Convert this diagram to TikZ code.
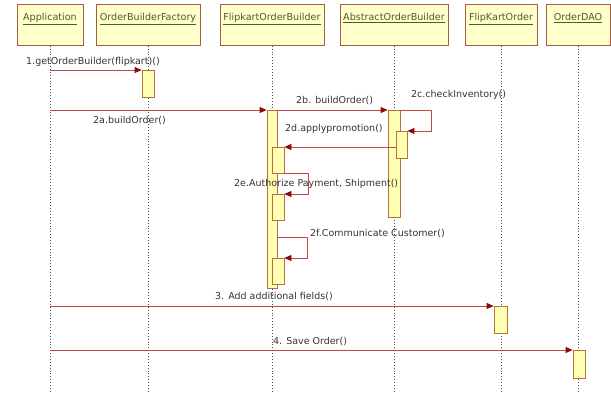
\documentclass[tikz,border=0pt]{standalone}
\usepackage{fontspec}
\setmainfont{DejaVu Sans}
\usetikzlibrary{arrows.meta, positioning}
\definecolor{headfill}{HTML}{FFFFCC}
\definecolor{boxline}{HTML}{A85A44}
\definecolor{headtext}{HTML}{4F5A2A}
\definecolor{actfill}{HTML}{FFFFB4}
\definecolor{actline}{HTML}{B8703C}
\definecolor{msgred}{HTML}{C04848}
\definecolor{tipred}{HTML}{8B0A0A}
\definecolor{lifegray}{HTML}{505050}
\definecolor{labelgray}{HTML}{333333}

\begin{document}
\begin{tikzpicture}[
    x=1pt, y=-1pt,
    head/.style={rectangle, draw=boxline, fill=headfill, line width=0.8pt, anchor=north, text height=7pt, text depth=16pt, inner ysep=9pt, inner xsep=1pt, font=\fontsize{9.6}{11}\selectfont, text=headtext},
    act/.style={rectangle, draw=actline, fill=actfill, line width=0.8pt, minimum width=11pt, anchor=north, inner sep=0pt},
    life/.style={dotted, line width=0.9pt, draw=lifegray},
    msg/.style={draw=msgred, line width=0.8pt, -{Triangle[length=7pt, width=6pt, color=tipred]}},
    lbl/.style={font=\fontsize{9.5}{11}\selectfont, text=labelgray, inner sep=1pt}
]
    \useasboundingbox (0,0) rectangle (611,393);

    % objects
    \node[head, minimum width=66pt] (app) at (50,4) {\underline{Application}};
    \node[head, minimum width=104pt] (obf) at (148,4) {\underline{OrderBuilderFactory}};
    \node[head, minimum width=104pt] (fob) at (272,4) {\underline{FlipkartOrderBuilder}};
    \node[head, minimum width=108pt] (aob) at (394,4) {\underline{AbstractOrderBuilder}};
    \node[head, minimum width=72pt] (fko) at (501,4) {\underline{FlipKartOrder}};
    \node[head, minimum width=64pt] (dao) at (578,4) {\underline{OrderDAO}};

    % lifelines
    \foreach \n in {app,obf,fob,aob,fko,dao} {
        \coordinate (\n-end) at (\n.south |- 0,393);
        \draw[life] (\n.south) -- (\n-end);
    }

    % activations
    \node[act, minimum width=12pt, minimum height=27pt] (a1) at (148,70) {};
    \node[act, minimum width=10pt, minimum height=178pt] (a2) at (272,110) {};
    \node[act, minimum width=12pt, minimum height=107pt] (a3) at (394,110) {};
    \node[act, minimum height=27pt] (a4) at (401.5,131) {};
    \node[act, minimum width=12pt, minimum height=26pt] (a5) at (278,147) {};
    \node[act, minimum width=12pt, minimum height=26pt] (a6) at (278,194) {};
    \node[act, minimum width=12pt, minimum height=26pt] (a7) at (278,258) {};
    \node[act, minimum width=13pt, minimum height=27pt] (a8) at (500.5,306) {};
    \node[act, minimum width=12pt, minimum height=28pt] (a9) at (579,350) {};

    % messages
    \coordinate (s1) at (app |- 0,70);
    \coordinate (s2) at (app |- 0,110);
    \coordinate (s2f) at (a2.east |- 0,237);
    \coordinate (s3) at (app |- 0,306);
    \coordinate (s4) at (app |- 0,350);

    \draw[msg] (s1) -- (a1.north west);
    \draw[msg] (s2) -- (a2.north west);
    \draw[msg] (a2.north east) -- (a3.north west);
    \draw[msg] (a3.north east) -- ++(31,0) |- (a4.north east);
    \draw[msg] (a4.west |- a5.north) -- (a5.north east);
    \draw[msg] (a5.south east) -- ++(24,0) |- (a6.north east);
    \draw[msg] (s2f) -- ++(30,0) |- (a7.north east);
    \draw[msg] (s3) -- (a8.north west);
    \draw[msg] (s4) -- (a9.north west);

    % labels
    \node[lbl, anchor=west] (l1) at (25,62) {1.getOrderBuilder(flipkart)()};
    \node[lbl, anchor=west] (l2a) at (92,121) {2a.buildOrder()};
    \node[lbl, anchor=west] (l2b) at (295,101) {2b. buildOrder()};
    \node[lbl, anchor=west] (l2c) at (410,95) {2c.checkInventory()};
    \node[lbl, anchor=west] (l2d) at (284,129) {2d.applypromotion()};
    \node[lbl, anchor=west] (l2e) at (233,184) {2e.Authorize Payment, Shipment()};
    \node[lbl, anchor=west] (l2f) at (309,234) {2f.Communicate Customer()};
    \node[lbl, anchor=west] (l3) at (214,297) {3. Add additional fields()};
    \node[lbl, anchor=west] (l4) at (272,342) {4. Save Order()};

\end{tikzpicture}
\end{document}
